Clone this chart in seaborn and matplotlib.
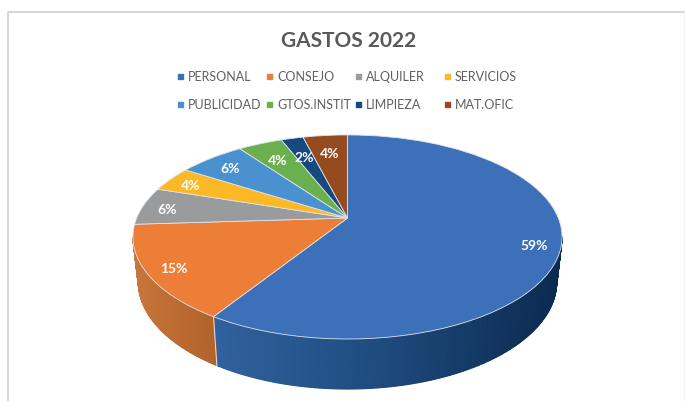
import numpy as np
import matplotlib
matplotlib.use("Agg")
import matplotlib.pyplot as plt
import seaborn as sns
from matplotlib.colors import LinearSegmentedColormap
from matplotlib.lines import Line2D
from matplotlib.transforms import Affine2D, Transform

categories = ["PERSONAL", "CONSEJO", "ALQUILER", "SERVICIOS",
              "PUBLICIDAD", "GTOS.INSTIT", "LIMPIEZA", "MAT.OFIC"]
values = [59, 15, 6, 4, 6, 4, 2, 4]
slice_colors = ["#3c70b8", "#ed7e38", "#999b9c", "#fdb925",
                "#4a92cf", "#6ab04f", "#164a7e", "#964a20"]
# side wall shading, left end to right end
side_shades = {0: ("#31619f", "#1e4a7c", "#0b2a50"), 1: ("#c8763a", "#bc6c32", "#b0632d")}
# how far out the % label sits on each slice
label_radius = [0.88, 0.88, 0.88, 0.88, 0.85, 0.78, 0.76, 0.78]

sns.set_theme(style="white")
plt.rcParams["font.family"] = ["Lato", "DejaVu Sans"]

# pie position on the canvas, in pixels
APEX = (347.5, 183)  # y counted from the bottom
KY = 0.186
AX_R = 210.8
AY_R = 98.5
DROP = 44
SHRINK_X = 0.975
STRETCH_Y = 1.05


def project(xy):
    xy = np.asarray(xy, dtype=float)
    w = 1 + KY * xy[..., 1]
    return np.stack([APEX[0] + AX_R * xy[..., 0] / w,
                     APEX[1] + AY_R * xy[..., 1] / w], axis=-1)


class TiltedPie(Transform):
    """Perspective look for the flat pie, unit circle to off-centre ellipse."""
    input_dims = 2
    output_dims = 2
    is_separable = False

    def transform_non_affine(self, values):
        return project(values)


def wall_bottom(p):
    q = p.copy()
    q[..., 0] = APEX[0] + (p[..., 0] - APEX[0]) * SHRINK_X
    q[..., 1] = APEX[1] + (p[..., 1] - APEX[1]) * STRETCH_Y - DROP
    return q


fig = plt.figure(figsize=(6.85, 4.02), dpi=100)
ax = fig.add_axes([0, 0, 1, 1])

wedges, _, autotexts = ax.pie(
    values, colors=slice_colors, startangle=90, counterclock=False,
    autopct="%.0f%%", textprops={"color": "white", "fontsize": 10, "fontweight": "bold"},
    wedgeprops={"edgecolor": "#dfe3ea", "linewidth": 0.6},
)
ax.set_aspect("auto")
ax.set_xlim(0, 685)
ax.set_ylim(0, 402)
ax.axis("off")

tilt = TiltedPie() + ax.transData
label_shift = Affine2D().translate(0, -1.5)
for w, at, r in zip(wedges, autotexts, label_radius):
    w.set_transform(tilt)
    w.set_zorder(3)
    mid = np.radians((w.theta1 + w.theta2) / 2)
    at.set_position((r * np.cos(mid), r * np.sin(mid)))
    at.set_transform(tilt + label_shift)
    at.set_zorder(4)

# side wall, only the front part between the two tangent points
for i, shades in side_shades.items():
    t1, t2 = wedges[i].theta1, wedges[i].theta2
    t1, t2 = (t1 - 360, t2 - 360) if t1 > 0 else (t1, t2)
    a = np.radians(np.arange(max(t1, -169.3), min(t2, -10.7) + 0.5, 0.5))
    top = project(np.column_stack([np.cos(a), np.sin(a)]))
    bottom = wall_bottom(top)
    frac = (top[:, 0] - top[:, 0].min()) / np.ptp(top[:, 0])
    cmap = LinearSegmentedColormap.from_list("wall", shades)
    ax.pcolormesh(np.vstack([top[:, 0], bottom[:, 0]]), np.vstack([top[:, 1], bottom[:, 1]]),
                  np.vstack([frac, frac]), cmap=cmap, shading="gouraud", zorder=2)

# seam between the two wall slices
a = np.radians(wedges[0].theta1 - 360 if wedges[0].theta1 > 0 else wedges[0].theta1)
seam_top = project(np.array([np.cos(a), np.sin(a)]))
seam_bottom = wall_bottom(seam_top)
ax.plot([seam_top[0], seam_bottom[0]], [seam_top[1], seam_bottom[1]],
        color="#dfe3ea", lw=0.7, zorder=2.5)

ax.text(349, 361, "GASTOS 2022", ha="center", va="center", fontsize=15,
        fontweight="bold", color="#595959")

# legend, two rows on a fixed grid
for i, name in enumerate(categories):
    col, row = i % 4, i // 4
    x = 180 + 89 * col
    y = 325 - 28 * row
    ax.plot([x], [y], marker="s", ms=3.6, color=slice_colors[i], ls="none")
    ax.text(x + 8, y, name, ha="left", va="center", fontsize=9, color="#606060")

# chart frame
ax.add_line(Line2D([8.5, 8.5, 685], [0, 389, 389], color="#d6d6d6", lw=1.4))
ax.add_line(Line2D([684, 684], [0, 389], color="#f2f2f2", lw=0.8))

fig.savefig("out.png", dpi=100)
